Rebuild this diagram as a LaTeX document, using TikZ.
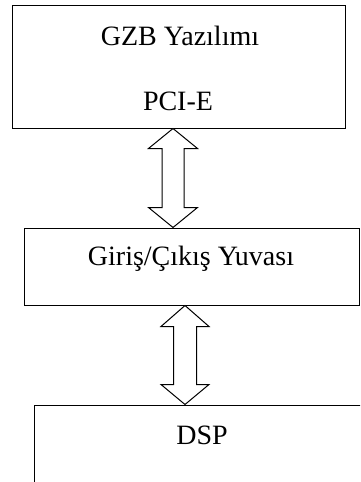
\documentclass[tikz,border=0pt]{standalone}
\usepackage{fontspec}
\setmainfont{Liberation Serif}
\begin{document}
\begin{tikzpicture}[x=1pt,y=-1pt,
  box/.style={draw,line width=1pt,rectangle,inner sep=0pt},
  lbl/.style={anchor=base,inner sep=0pt,font=\fontsize{28}{32}\selectfont},
  dblarrow/.style={draw,line width=1pt,line join=miter,fill=white}]
\useasboundingbox (0,0) rectangle (360,482);
\clip (0,0) rectangle (360,482);
% boxes
\node[box,minimum width=333pt,minimum height=123pt] (b1) at (178.5,66.5) {};
\node[box,minimum width=335pt,minimum height=77pt] (b2) at (191.5,266.5) {};
\node[box,minimum width=340pt,minimum height=100pt] (b3) at (204,455) {};
% labels
\node[lbl] (t1) at (180,45) {GZB Yazılımı};
\node[lbl] (t2) at (178,110) {PCI-E};
\node[lbl] (t3) at (191,265) {Giriş/Çıkış Yuvası};
\node[lbl] (t4) at (202,444) {DSP};
% arrow end points
\coordinate (a1t) at ([xshift=-5.5pt]b1.south);
\coordinate (a1b) at (a1t |- b2.north);
\coordinate (a2t) at ([xshift=-6.5pt]b2.south);
\coordinate (a2b) at (a2t |- b3.north);
% double arrows
\draw[dblarrow] (a1t) -- ([shift={(24.5,20)}]a1t) -- ([shift={(11,20)}]a1t)
  -- ([shift={(11,-20)}]a1b) -- ([shift={(24.5,-20)}]a1b) -- (a1b)
  -- ([shift={(-24.5,-20)}]a1b) -- ([shift={(-11,-20)}]a1b)
  -- ([shift={(-11,20)}]a1t) -- ([shift={(-24.5,20)}]a1t) -- cycle;
\draw[dblarrow] (a2t) -- ([shift={(24,21)}]a2t) -- ([shift={(11.5,21)}]a2t)
  -- ([shift={(11.5,-20)}]a2b) -- ([shift={(24,-20)}]a2b) -- (a2b)
  -- ([shift={(-24,-20)}]a2b) -- ([shift={(-11.5,-20)}]a2b)
  -- ([shift={(-11.5,21)}]a2t) -- ([shift={(-24,21)}]a2t) -- cycle;
\end{tikzpicture}
\end{document}
